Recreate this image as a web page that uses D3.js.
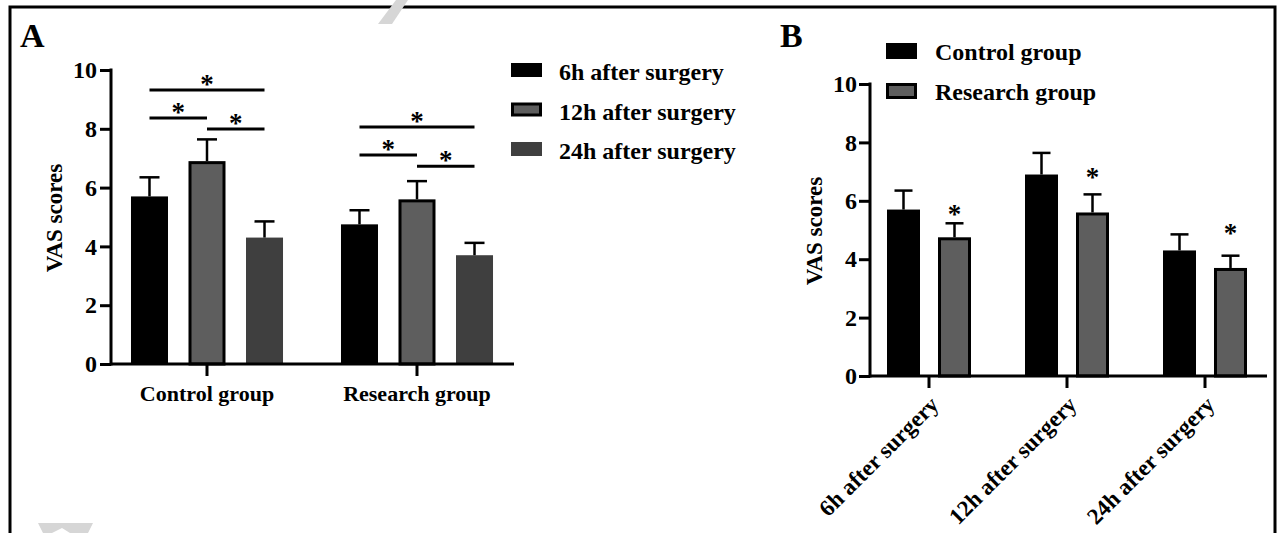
<!DOCTYPE html>
<html>
<head>
<meta charset="utf-8">
<style>
  body { margin: 0; background: #fff; }
  svg text { font-family: "Liberation Serif", "Times New Roman", serif; font-weight: bold; fill: #000; }
</style>
</head>
<body>
<svg id="chart" width="1278" height="533"></svg>
<script src="https://cdnjs.cloudflare.com/ajax/libs/d3/7.8.5/d3.min.js"></script>
<script>
const groups = ["Control group", "Research group"];
const times = ["6h after surgery", "12h after surgery", "24h after surgery"];
const controlMeans = [5.7, 6.9, 4.3];
const controlErr = [0.65, 0.74, 0.55];
const researchMeans = [4.75, 5.6, 3.7];
const researchErr = [0.48, 0.62, 0.42];
const yTicks = [0, 2, 4, 6, 8, 10];

// significance brackets in panel A (series index from/to, height in VAS units)
const bracketFrom = [0, 0, 1];
const bracketTo = [2, 1, 2];
const bracketLevelControl = [9.32, 8.37, 7.99];
const bracketLevelResearch = [8.06, 7.11, 6.73];
// star heights above research bars in panel B
const starLevelB = [5.25, 6.52, 4.6];

const timeFill = ["#000000", "#5e5e5e", "#3f3f3f"];
const timeStroke = ["#000000", "#000000", "#3f3f3f"];
const groupFill = ["#000000", "#5e5e5e"];

const means = [controlMeans, researchMeans];
const errs = [controlErr, researchErr];

const svg = d3.select("#chart");

// outer frame
svg.append("rect")
  .attr("x", 10).attr("y", 7)
  .attr("width", 1265).attr("height", 600)
  .attr("fill", "none").attr("stroke", "#000").attr("stroke-width", 3);

// faint watermark fragments
svg.append("path").attr("d", "M378,24 L392,24 L408,0 L396,0 Z").attr("fill", "#d6d6d6");
svg.append("path").attr("d", "M38,523 L93,523 L88,533 L70,533 L62,528 L52,533 L43,533 Z").attr("fill", "#d6d6d6");

function drawBar(g, x, y, w, h, fill, stroke) {
  if (stroke === "#000000" && fill !== "#000000") {
    g.append("rect")
      .attr("x", x + 1.5).attr("y", y + 1.5)
      .attr("width", w - 3).attr("height", h - 1.5)
      .attr("fill", fill).attr("stroke", stroke).attr("stroke-width", 3);
  } else {
    g.append("rect")
      .attr("x", x).attr("y", y).attr("width", w).attr("height", h)
      .attr("fill", fill);
  }
}

function drawErr(g, cx, yTop, yVal, cap) {
  g.append("line").attr("x1", cx).attr("x2", cx).attr("y1", yVal).attr("y2", yTop)
    .attr("stroke", "#000").attr("stroke-width", 2.5);
  g.append("line").attr("x1", cx - cap / 2).attr("x2", cx + cap / 2).attr("y1", yTop).attr("y2", yTop)
    .attr("stroke", "#000").attr("stroke-width", 2.5);
}

function styleAxis(sel) {
  sel.select(".domain").remove();
  sel.selectAll(".tick line").attr("stroke", "#000").attr("stroke-width", 3);
  sel.selectAll(".tick text").style("font-size", "24px");
}

// ---------------- Panel A ----------------
const gA = svg.append("g");
gA.append("text").attr("x", 20).attr("y", 47).style("font-size", "34px").text("A");

const yA = d3.scaleLinear().domain([0, 10]).range([364, 70]);
const xA = d3.scaleBand().domain(groups).range([102, 522]).padding(0);
const xAin = d3.scaleBand().domain(times).range([-86.25, 86.25]).paddingInner(0.3565).paddingOuter(0.178);

groups.forEach((grp, gi) => {
  times.forEach((t, ti) => {
    const x0 = xA(grp) + xA.bandwidth() / 2 + xAin(t);
    const w = xAin.bandwidth();
    const v = means[gi][ti];
    drawBar(gA, x0, yA(v), w, yA(0) - yA(v), timeFill[ti], timeStroke[ti]);
    drawErr(gA, x0 + w / 2, yA(v + errs[gi][ti]), yA(v), 20);
  });
  const levels = gi === 0 ? bracketLevelControl : bracketLevelResearch;
  levels.forEach((lv, bi) => {
    const c = xA(grp) + xA.bandwidth() / 2;
    const xa = c + xAin(times[bracketFrom[bi]]) + xAin.bandwidth() / 2;
    const xb = c + xAin(times[bracketTo[bi]]) + xAin.bandwidth() / 2;
    gA.append("line").attr("x1", xa).attr("x2", xb).attr("y1", yA(lv)).attr("y2", yA(lv))
      .attr("stroke", "#000").attr("stroke-width", 3);
    gA.append("text").attr("x", (xa + xb) / 2).attr("y", yA(lv) + 3)
      .attr("text-anchor", "middle").style("font-size", "27px").text("*");
  });
});

const axA_y = gA.append("g").attr("transform", "translate(111,0)")
  .call(d3.axisLeft(yA).tickValues(yTicks).tickSize(11).tickPadding(3));
styleAxis(axA_y);
gA.append("line").attr("x1", 111).attr("x2", 111).attr("y1", yA(10) - 1.5).attr("y2", yA(0) + 1.5)
  .attr("stroke", "#000").attr("stroke-width", 3);

const axA_x = gA.append("g").attr("transform", "translate(0,364)")
  .call(d3.axisBottom(xA).tickSize(12).tickPadding(9));
styleAxis(axA_x);
axA_x.selectAll(".tick text").style("font-size", "22px");
gA.append("line").attr("x1", 111).attr("x2", 514).attr("y1", 364).attr("y2", 364)
  .attr("stroke", "#000").attr("stroke-width", 3);

gA.append("text").attr("transform", "translate(62,218) rotate(-90)")
  .attr("text-anchor", "middle").style("font-size", "23px").text("VAS scores");

// legend A
times.forEach((t, ti) => {
  const ly = 63 + ti * 39.5;
  if (timeStroke[ti] === "#000000" && timeFill[ti] !== "#000000") {
    gA.append("rect").attr("x", 512.5).attr("y", ly + 1.5).attr("width", 28).attr("height", 11)
      .attr("fill", timeFill[ti]).attr("stroke", "#000").attr("stroke-width", 3);
  } else {
    gA.append("rect").attr("x", 511).attr("y", ly).attr("width", 31).attr("height", 14)
      .attr("fill", timeFill[ti]);
  }
  gA.append("text").attr("x", 559).attr("y", ly + 17).style("font-size", "24px").text(t);
});

// ---------------- Panel B ----------------
const gB = svg.append("g");
gB.append("text").attr("x", 780).attr("y", 47).style("font-size", "34px").text("B");

const yB = d3.scaleLinear().domain([0, 10]).range([376, 84]);
const xB = d3.scaleBand().domain(times).range([860, 1274]).padding(0);
const xBin = d3.scaleBand().domain(groups).range([-51, 51]).paddingInner(0.353).paddingOuter(0.1765);

times.forEach((t, ti) => {
  groups.forEach((grp, gi) => {
    const x0 = xB(t) + xB.bandwidth() / 2 + xBin(grp);
    const w = xBin.bandwidth();
    const v = means[gi][ti];
    drawBar(gB, x0, yB(v), w, yB(0) - yB(v), groupFill[gi], "#000000");
    drawErr(gB, x0 + w / 2, yB(v + errs[gi][ti]), yB(v), 18);
    if (gi === 1) {
      gB.append("text").attr("x", x0 + w / 2).attr("y", yB(starLevelB[ti]))
        .attr("text-anchor", "middle").style("font-size", "27px").text("*");
    }
  });
});

const axB_y = gB.append("g").attr("transform", "translate(870,0)")
  .call(d3.axisLeft(yB).tickValues(yTicks).tickSize(11).tickPadding(2));
styleAxis(axB_y);
gB.append("line").attr("x1", 870).attr("x2", 870).attr("y1", yB(10) - 1.5).attr("y2", yB(0) + 1.5)
  .attr("stroke", "#000").attr("stroke-width", 3);

const axB_x = gB.append("g").attr("transform", "translate(0,376)")
  .call(d3.axisBottom(xB).tickSize(12));
styleAxis(axB_x);
axB_x.selectAll(".tick text")
  .style("font-size", "23px")
  .attr("text-anchor", "end")
  .attr("dy", null)
  .attr("y", null)
  .attr("transform", "translate(11,30) rotate(-45)");
gB.append("line").attr("x1", 870).attr("x2", 1267).attr("y1", 376).attr("y2", 376)
  .attr("stroke", "#000").attr("stroke-width", 3);

gB.append("text").attr("transform", "translate(822,231) rotate(-90)")
  .attr("text-anchor", "middle").style("font-size", "23px").text("VAS scores");

// legend B
groups.forEach((grp, gi) => {
  const ly = 43 + gi * 40;
  if (gi === 1) {
    gB.append("rect").attr("x", 887.5).attr("y", ly + 1.5).attr("width", 28).attr("height", 13)
      .attr("fill", groupFill[gi]).attr("stroke", "#000").attr("stroke-width", 3);
  } else {
    gB.append("rect").attr("x", 886).attr("y", ly).attr("width", 31).attr("height", 16)
      .attr("fill", groupFill[gi]);
  }
  gB.append("text").attr("x", 935).attr("y", ly + 17).style("font-size", "24px").text(grp);
});
</script>
</body>
</html>
